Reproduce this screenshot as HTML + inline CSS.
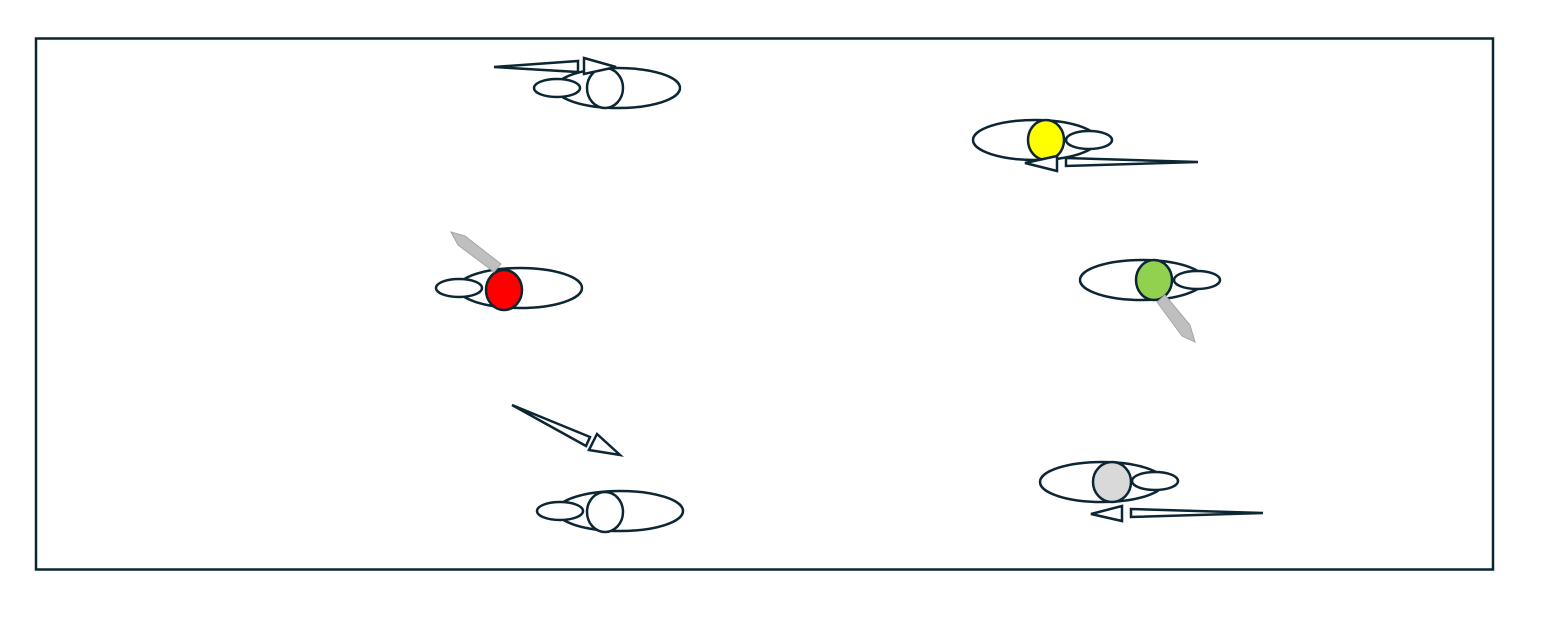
<!DOCTYPE html>
<html><head><meta charset="utf-8"><style>html,body{margin:0;padding:0;background:#fff}svg{display:block}</style></head>
<body>
<svg width="1556" height="622" viewBox="0 0 1556 622" xmlns="http://www.w3.org/2000/svg">
<rect x="36" y="38.5" width="1457" height="531" fill="none" stroke="#0d2633" stroke-width="2.5"/>
<g fill="#fff" stroke="#0d2633" stroke-width="2.5" stroke-linejoin="miter">
<!-- top -->
<ellipse cx="618" cy="88" rx="62" ry="20"/>
<ellipse cx="557" cy="88" rx="23" ry="9"/>
<ellipse cx="605" cy="88" rx="18" ry="20"/>
<polygon points="494,67 578,61 578,72"/>
<polygon points="584,58 616,67 584,74"/>
<!-- yellow -->
<ellipse cx="1035" cy="140" rx="62" ry="20"/>
<ellipse cx="1089" cy="140" rx="23" ry="9"/>
<ellipse cx="1046" cy="140" rx="18" ry="20" fill="#ffff00"/>
<polygon points="1198,162 1066,158 1066,166"/>
<polygon points="1057,156 1025,163 1057,171"/>
<!-- red -->
<ellipse cx="520" cy="288" rx="62" ry="20"/>
<ellipse cx="459" cy="288" rx="23" ry="9"/>
<ellipse cx="504" cy="290" rx="18" ry="20" fill="#ff0000"/>
<!-- green -->
<ellipse cx="1142" cy="280" rx="62" ry="20"/>
<ellipse cx="1197" cy="280" rx="23" ry="9"/>
<ellipse cx="1154" cy="280" rx="18" ry="20" fill="#92d050"/>
<!-- bottom left -->
<ellipse cx="620" cy="511" rx="63" ry="20"/>
<ellipse cx="560" cy="511" rx="23" ry="9"/>
<ellipse cx="605" cy="512" rx="18" ry="20"/>
<polygon points="512,405 590,437 586,446"/>
<polygon points="597,434 620,455 589,450"/>
<!-- gray -->
<ellipse cx="1102" cy="482" rx="62" ry="20"/>
<ellipse cx="1155" cy="481" rx="23" ry="9"/>
<ellipse cx="1112" cy="482" rx="19" ry="20" fill="#d9d9d9"/>
<polygon points="1263,513 1131,509 1131,517"/>
<polygon points="1122,506 1091,514 1122,521"/>
</g>
<g fill="#bfbfbf" stroke="#a6a6a6" stroke-width="1">
<polygon points="451,232 465,236 501,264 494,272 458,245"/>
<polygon points="1157,302 1165,295 1190,325 1195,342 1182,336"/>
</g>
</svg>
</body></html>
